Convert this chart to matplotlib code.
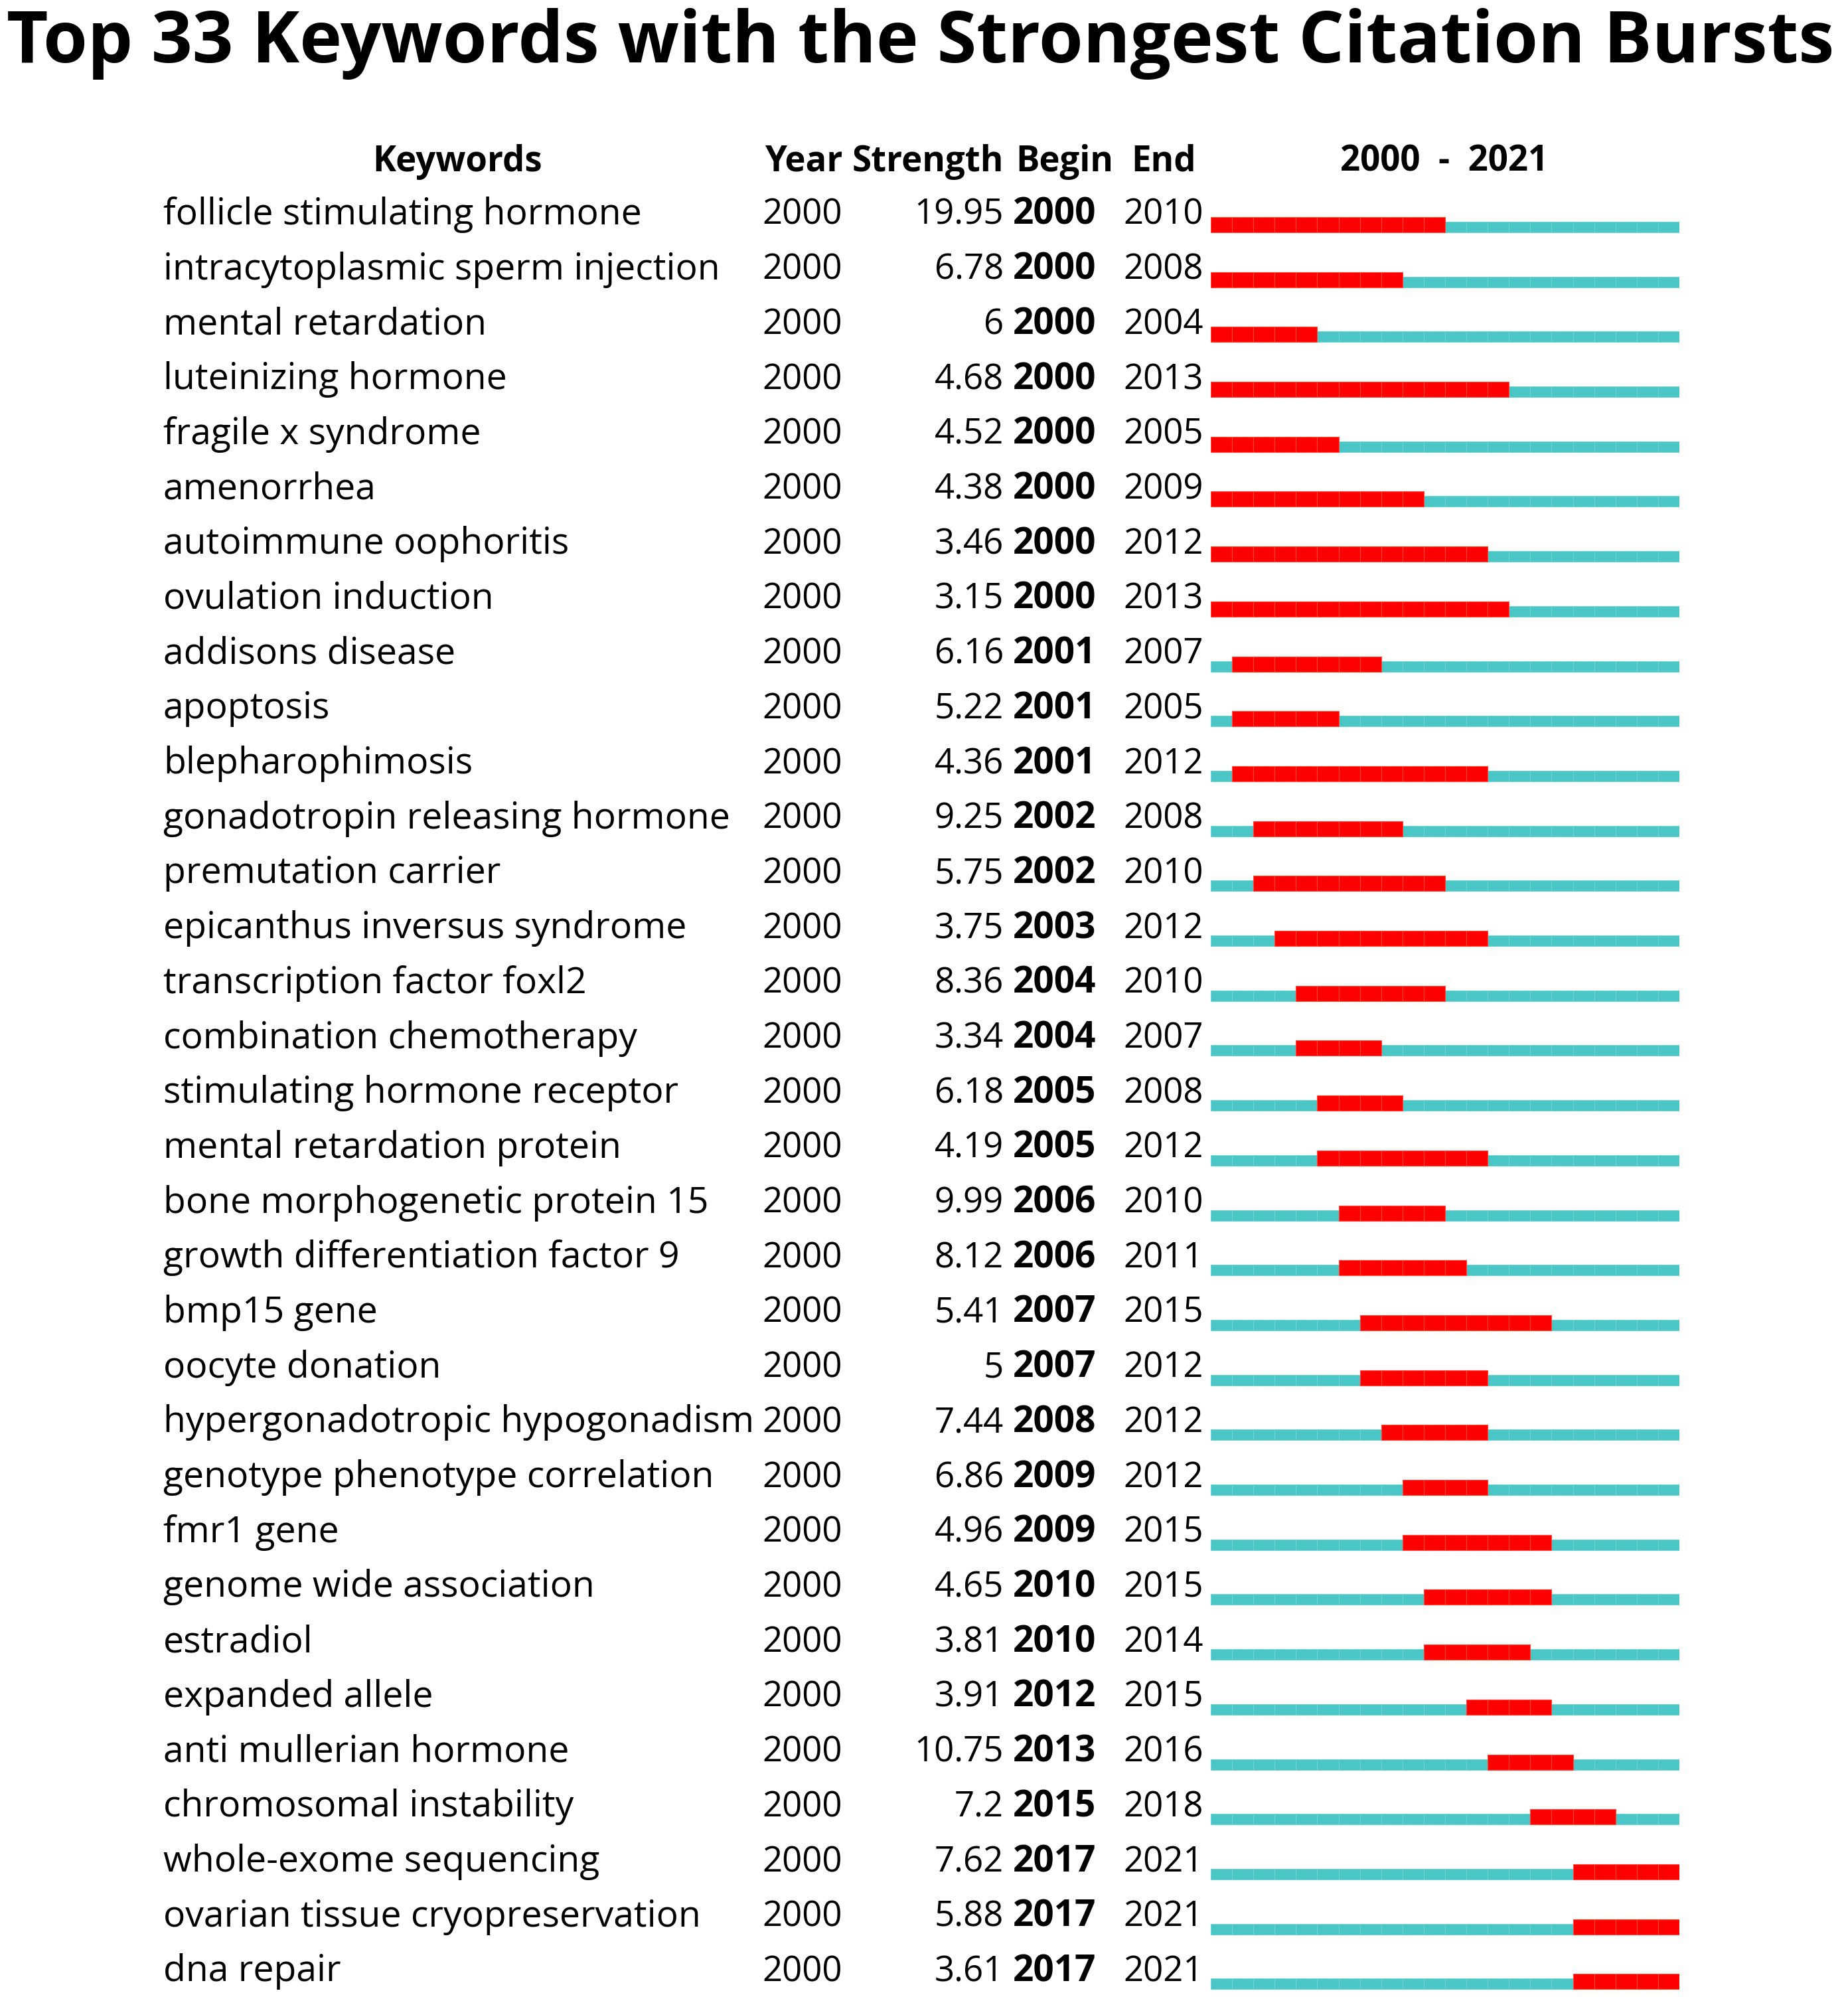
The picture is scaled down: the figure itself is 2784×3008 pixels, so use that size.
import matplotlib.pyplot as plt
from matplotlib.transforms import blended_transform_factory

# burst table
keywords = ["follicle stimulating hormone", "intracytoplasmic sperm injection", "mental retardation",
            "luteinizing hormone", "fragile x syndrome", "amenorrhea", "autoimmune oophoritis",
            "ovulation induction", "addisons disease", "apoptosis", "blepharophimosis",
            "gonadotropin releasing hormone", "premutation carrier", "epicanthus inversus syndrome",
            "transcription factor foxl2", "combination chemotherapy", "stimulating hormone receptor",
            "mental retardation protein", "bone morphogenetic protein 15", "growth differentiation factor 9",
            "bmp15 gene", "oocyte donation", "hypergonadotropic hypogonadism", "genotype phenotype correlation",
            "fmr1 gene", "genome wide association", "estradiol", "expanded allele", "anti mullerian hormone",
            "chromosomal instability", "whole-exome sequencing", "ovarian tissue cryopreservation", "dna repair"]
year = [2000] * 33
strength = [19.95, 6.78, 6, 4.68, 4.52, 4.38, 3.46, 3.15, 6.16, 5.22, 4.36, 9.25, 5.75, 3.75, 8.36, 3.34,
            6.18, 4.19, 9.99, 8.12, 5.41, 5, 7.44, 6.86, 4.96, 4.65, 3.81, 3.91, 10.75, 7.2, 7.62, 5.88, 3.61]
begin = [2000, 2000, 2000, 2000, 2000, 2000, 2000, 2000, 2001, 2001, 2001, 2002, 2002, 2003, 2004, 2004,
         2005, 2005, 2006, 2006, 2007, 2007, 2008, 2009, 2009, 2010, 2010, 2012, 2013, 2015, 2017, 2017, 2017]
end = [2010, 2008, 2004, 2013, 2005, 2009, 2012, 2013, 2007, 2005, 2012, 2008, 2010, 2012, 2010, 2007,
       2008, 2012, 2010, 2011, 2015, 2012, 2012, 2012, 2015, 2015, 2014, 2015, 2016, 2018, 2021, 2021, 2021]
first_year, last_year = 2000, 2021

cyan = "#4AC6C6"
red = "#FF0000"

plt.rcParams['font.family'] = ['Open Sans', 'DejaVu Sans']

W, H = 2784, 3008
fig = plt.figure(figsize=(W / 100, H / 100), dpi=100)

n = len(keywords)
pitch = 82.7
top_px = 338 - 0.5 * pitch
ax_h = (n - 1 + 0.75) * pitch
ax = fig.add_axes([1824 / W, 1 - (top_px + ax_h) / H, 706 / W, ax_h / H])
ax.set_xlim(first_year, last_year + 1)
ax.set_ylim(n - 1 + 0.25, -0.5)
ax.axis('off')

# bars: bottom edge a bit below text baseline, red thicker than cyan
bot = 0.145
h_cyan = 16 / pitch
h_red = 23 / pitch
years = list(range(first_year, last_year + 1))
for i in range(n):
    ax.barh([i + bot - h_cyan] * len(years), [1] * len(years), left=years, height=h_cyan,
            align='edge', color=cyan, edgecolor="#6FD3D3", linewidth=0.8)
    burst = list(range(begin[i], end[i] + 1))
    ax.barh([i + bot - h_red] * len(burst), [1] * len(burst), left=burst, height=h_red,
            align='edge', color=red, edgecolor="#FF4A3A", linewidth=0.8)

tr = blended_transform_factory(fig.transFigure, ax.transData)
fs = 38
for i in range(n):
    ax.text(246 / W, i, keywords[i], transform=tr, fontsize=39.8, va='baseline', ha='left')
    ax.text(1148 / W, i, str(year[i]), transform=tr, fontsize=fs, va='baseline', ha='left')
    ax.text(1512 / W, i, f"{strength[i]:g}", transform=tr, fontsize=fs, va='baseline', ha='right')
    ax.text(1526 / W, i, str(begin[i]), transform=tr, fontsize=39.5, va='baseline', ha='left',
            fontweight='bold')
    ax.text(1692 / W, i, str(end[i]), transform=tr, fontsize=fs, va='baseline', ha='left')

# header row
hy = -0.97
ax.text(689 / W, hy, "Keywords", transform=tr, fontsize=fs, va='baseline', ha='center', fontweight='bold')
ax.text(1153 / W, hy, "Year", transform=tr, fontsize=fs, va='baseline', ha='left', fontweight='bold')
ax.text(1512 / W, hy, "Strength", transform=tr, fontsize=fs, va='baseline', ha='right', fontweight='bold')
ax.text(1530 / W, hy, "Begin", transform=tr, fontsize=fs, va='baseline', ha='left', fontweight='bold')
ax.text(1704 / W, hy, "End", transform=tr, fontsize=fs, va='baseline', ha='left', fontweight='bold')
ax.text(2176 / W, hy, f"{first_year}  -  {last_year}", transform=tr, fontsize=fs, va='baseline',
        ha='center', fontweight='bold')

fig.text(1387 / W, 1 - 94 / H, "Top 33 Keywords with the Strongest Citation Bursts", fontsize=77.8,
         fontweight='bold', ha='center', va='baseline')

fig.savefig("out.png", dpi=100)
